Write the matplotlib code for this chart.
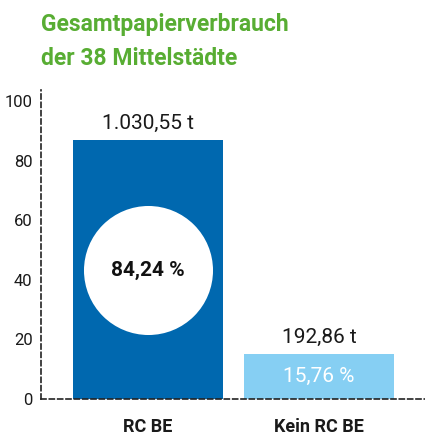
import matplotlib.pyplot as plt

# Data
categories = ["RC BE", "Kein RC BE"]
bar_heights = [86.9, 15.1]
tonnage_labels = ["1.030,55 t", "192,86 t"]
share_labels = ["84,24 %", "15,76 %"]
yticks = [0, 20, 40, 60, 80, 100]

green = "#58AD33"
dark_blue = "#0068AF"
light_blue = "#86CFF3"

plt.rcParams['font.family'] = ['Roboto', 'DejaVu Sans']

fig = plt.figure(figsize=(4.25, 4.36), dpi=100, facecolor='white')
ax = fig.add_axes([41 / 425, 37 / 436, 1 - 41 / 425, 309 / 436])

x = range(len(categories))
ax.bar(x, bar_heights, width=0.877, color=[dark_blue, light_blue], zorder=2)

ax.set_xlim(-0.626, 1.62)
ax.set_ylim(0, 103.7)
ax.set_yticks(yticks)
ax.set_xticks([])
ax.tick_params(axis='y', length=0, pad=6, labelsize=12, labelcolor='#1a1a1a')

for side in ['top', 'right']:
    ax.spines[side].set_visible(False)
for side in ['left', 'bottom']:
    ax.spines[side].set_linestyle((0, (3, 2)))
    ax.spines[side].set_linewidth(1.2)
    ax.spines[side].set_color('#222222')

# tonnage labels above bars
for i, h in enumerate(bar_heights):
    ax.text(i, h + 2.3, tonnage_labels[i], ha='center', va='bottom',
            fontsize=15, color='#1a1a1a')

# white circle with share on the big bar
ax.scatter([0], [43.3], s=92.9 ** 2, color='white', zorder=3, linewidths=0)
ax.text(0, 43.3, share_labels[0], ha='center', va='center', fontsize=15,
        fontweight='bold', color='#111111', zorder=4)
ax.text(1, bar_heights[1] / 2, share_labels[1], ha='center', va='center',
        fontsize=15, color='white', zorder=4)

# category labels
for i, c in enumerate(categories):
    ax.text(i, -9.5, c, ha='center', va='center', fontsize=13,
            fontweight='bold', color='#1a1a1a')

# title
fig.text(41 / 425, 1 - 13 / 436, "Gesamtpapierverbrauch\nder 38 Mittelstädte",
         ha='left', va='top', fontsize=16.5, fontweight='bold', color=green,
         linespacing=1.6)

plt.savefig('out.png', dpi=100)
